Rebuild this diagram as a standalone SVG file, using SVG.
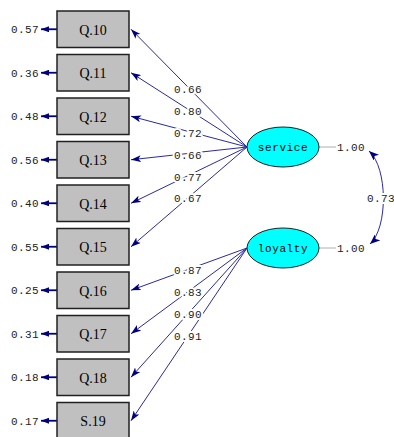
<svg xmlns="http://www.w3.org/2000/svg" width="394" height="437" viewBox="0 0 394 437">
<style>
.box{fill:#c0c0c0;stroke:#202020;stroke-width:1.5}
.bt{font-family:"Liberation Serif",serif;font-size:14px;fill:#000;text-anchor:middle}
.num{font-family:"Liberation Mono",monospace;font-size:11px;letter-spacing:0.4px;fill:#222}
.lbl{font-family:"Liberation Mono",monospace;font-size:11px;letter-spacing:0.4px;fill:#222;text-anchor:middle;stroke:#fff;stroke-width:4;paint-order:stroke;stroke-linejoin:round}
.lv{fill:#00ffff;stroke:#202020;stroke-width:1}
.lvt{font-family:"Liberation Mono",monospace;font-size:11px;letter-spacing:0.6px;fill:#000;text-anchor:middle}
.ld{stroke:#2a2aa0;stroke-width:1;fill:none;marker-end:url(#ah)}
.er{stroke:#000080;stroke-width:1.8;marker-end:url(#eh)}
.gl{stroke:#b0b0b0;stroke-width:1}
</style>
<defs>
<marker id="ah" markerWidth="10" markerHeight="7" refX="10" refY="3.5" orient="auto" markerUnits="userSpaceOnUse"><path d="M0,0 L10,3.5 L0,7 L2.5,3.5 z" fill="#000080"/></marker>
<marker id="eh" markerWidth="8" markerHeight="6" refX="8" refY="3" orient="auto" markerUnits="userSpaceOnUse"><path d="M0,0 L8,3 L0,6 z" fill="#000080"/></marker>
<marker id="ch" markerWidth="10" markerHeight="8" refX="10" refY="4" orient="auto-start-reverse" markerUnits="userSpaceOnUse"><path d="M0,0 L10,4 L0,8 L2.5,4 z" fill="#000080"/></marker>
</defs>

<g id="connectors">
<line class="er" x1="57" y1="29.25" x2="41" y2="29.25"/>
<line class="er" x1="57" y1="72.75" x2="41" y2="72.75"/>
<line class="er" x1="57" y1="116.25" x2="41" y2="116.25"/>
<line class="er" x1="57" y1="159.75" x2="41" y2="159.75"/>
<line class="er" x1="57" y1="203.25" x2="41" y2="203.25"/>
<line class="er" x1="57" y1="246.75" x2="41" y2="246.75"/>
<line class="er" x1="57" y1="290.25" x2="41" y2="290.25"/>
<line class="er" x1="57" y1="333.75" x2="41" y2="333.75"/>
<line class="er" x1="57" y1="377.25" x2="41" y2="377.25"/>
<line class="er" x1="57" y1="420.75" x2="41" y2="420.75"/>
<text class="num" x="39" y="33.25" text-anchor="end">0.57</text>
<text class="num" x="39" y="76.75" text-anchor="end">0.36</text>
<text class="num" x="39" y="120.25" text-anchor="end">0.48</text>
<text class="num" x="39" y="163.75" text-anchor="end">0.56</text>
<text class="num" x="39" y="207.25" text-anchor="end">0.40</text>
<text class="num" x="39" y="250.75" text-anchor="end">0.55</text>
<text class="num" x="39" y="294.25" text-anchor="end">0.25</text>
<text class="num" x="39" y="337.75" text-anchor="end">0.31</text>
<text class="num" x="39" y="381.25" text-anchor="end">0.18</text>
<text class="num" x="39" y="424.75" text-anchor="end">0.17</text>

<line class="ld" x1="247" y1="147" x2="131" y2="29.25"/>
<line class="ld" x1="247" y1="147" x2="131" y2="72.75"/>
<line class="ld" x1="247" y1="147" x2="131" y2="116.25"/>
<line class="ld" x1="247" y1="147" x2="131" y2="159.75"/>
<line class="ld" x1="247" y1="147" x2="131" y2="203.25"/>
<line class="ld" x1="247" y1="147" x2="131" y2="246.75"/>
<line class="ld" x1="247" y1="248" x2="131" y2="290.25"/>
<line class="ld" x1="247" y1="248" x2="131" y2="333.75"/>
<line class="ld" x1="247" y1="248" x2="131" y2="377.25"/>
<line class="ld" x1="247" y1="248" x2="131" y2="420.75"/>
<text class="lbl" x="188" y="93">0.66</text>
<text class="lbl" x="188" y="114.5">0.80</text>
<text class="lbl" x="188" y="137">0.72</text>
<text class="lbl" x="188" y="159">0.66</text>
<text class="lbl" x="188" y="180.5">0.77</text>
<text class="lbl" x="188" y="201.5">0.67</text>
<text class="lbl" x="188" y="274">0.87</text>
<text class="lbl" x="188" y="296">0.83</text>
<text class="lbl" x="188" y="318">0.90</text>
<text class="lbl" x="188" y="339.5">0.91</text>

<line class="gl" x1="319" y1="147" x2="336" y2="147"/>
<line class="gl" x1="319" y1="248" x2="336" y2="248"/>
<path d="M369,151 C388,168 388,228 370,244" fill="none" stroke="#2a2aa0" stroke-width="1" marker-start="url(#ch)" marker-end="url(#ch)"/>
<text class="num" x="337" y="151">1.00</text>
<text class="num" x="337" y="252">1.00</text>
<text class="lbl" x="381" y="202">0.73</text>
</g>

<g id="Q10"><rect class="box" x="57" y="11" width="72" height="36.5"/><text class="bt" x="93" y="34.5">Q.10</text></g>
<g id="Q11"><rect class="box" x="57" y="54.5" width="72" height="36.5"/><text class="bt" x="93" y="78">Q.11</text></g>
<g id="Q12"><rect class="box" x="57" y="98" width="72" height="36.5"/><text class="bt" x="93" y="121.5">Q.12</text></g>
<g id="Q13"><rect class="box" x="57" y="141.5" width="72" height="36.5"/><text class="bt" x="93" y="165">Q.13</text></g>
<g id="Q14"><rect class="box" x="57" y="185" width="72" height="36.5"/><text class="bt" x="93" y="208.5">Q.14</text></g>
<g id="Q15"><rect class="box" x="57" y="228.5" width="72" height="36.5"/><text class="bt" x="93" y="252">Q.15</text></g>
<g id="Q16"><rect class="box" x="57" y="272" width="72" height="36.5"/><text class="bt" x="93" y="295.5">Q.16</text></g>
<g id="Q17"><rect class="box" x="57" y="315.5" width="72" height="36.5"/><text class="bt" x="93" y="339">Q.17</text></g>
<g id="Q18"><rect class="box" x="57" y="359" width="72" height="36.5"/><text class="bt" x="93" y="382.5">Q.18</text></g>
<g id="S19"><rect class="box" x="57" y="402.5" width="72" height="36.5"/><text class="bt" x="93" y="426">S.19</text></g>

<g id="service"><ellipse class="lv" cx="283" cy="147" rx="36" ry="20"/><text class="lvt" x="283" y="151">service</text></g>
<g id="loyalty"><ellipse class="lv" cx="283" cy="248" rx="36" ry="20"/><text class="lvt" x="283" y="252">loyalty</text></g>
</svg>
